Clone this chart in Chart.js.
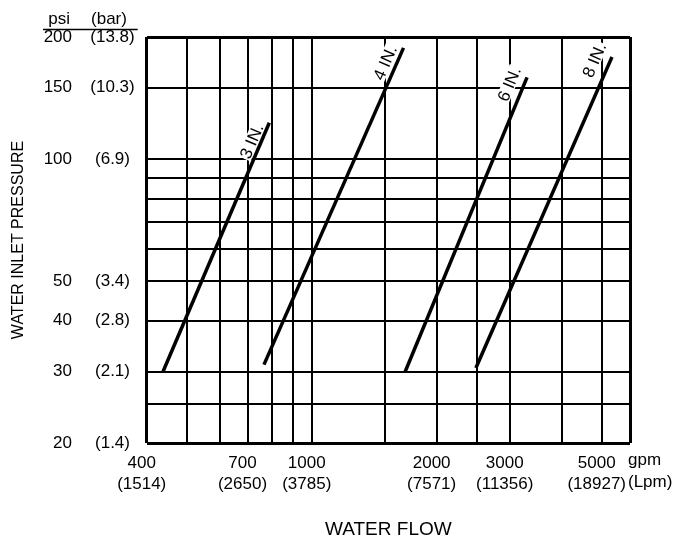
<!DOCTYPE html>
<html>
<head>
<meta charset="utf-8">
<script src="https://cdn.jsdelivr.net/npm/chart.js@4.4.0/dist/chart.umd.min.js"></script>
<style>
  html, body { margin: 0; padding: 0; background: #fff; }
  #chart { display: block; }
</style>
</head>
<body>
<canvas id="chart" width="675" height="540"></canvas>
<script>
// pipe sizes, each a straight line from (flowLow, pressLow) to (flowHigh, pressHigh) in gpm / psi
const pipeSizes = ['3 IN.', '4 IN.', '6 IN.', '8 IN.'];
const flowLow = [438, 767, 1680, 2487];
const flowHigh = [790, 1664, 3303, 5293];
const pressLow = [30, 31.2, 30, 30.6];
const pressHigh = [123, 188, 159, 178.6];

// x axis (gpm): grid lines, labelled ticks and their Lpm values
const flowGrid = [400, 500, 600, 700, 800, 900, 1000, 1500, 2000, 2500, 3000, 4000, 5000, 5850];
const flowTicks = [400, 700, 1000, 2000, 3000, 5000];
const lpmTicks = ['(1514)', '(2650)', '(3785)', '(7571)', '(11356)', '(18927)'];

// y axis (psi): grid lines, labelled ticks and their bar values
const pressGrid = [20, 25, 30, 40, 50, 60, 70, 80, 90, 100, 150, 200];
const psiTicks = [20, 30, 40, 50, 100, 150, 200];
const barTicks = ['(1.4)', '(2.1)', '(2.8)', '(3.4)', '(6.9)', '(10.3)', '(13.8)'];

const FONT = "'Liberation Sans', Arial, Helvetica, sans-serif";
Chart.defaults.font.family = FONT;
Chart.defaults.color = '#000';

// where each size label sits: px back from the top end, px off the line
const labelBack = [24, 21, 13, 10];
const labelSide = [9, 11, 14, 15];

const datasets = pipeSizes.map((s, i) => ({
  label: s,
  data: [{x: flowLow[i], y: pressLow[i]}, {x: flowHigh[i], y: pressHigh[i]}],
  borderColor: '#000',
  borderWidth: 3.5,
  pointRadius: 0,
  fill: false
}));

function setTicks(values) {
  return scale => { scale.ticks = values.map(v => ({value: v})); };
}
// frame lines a bit heavier than the inner grid
const edgeWidth = ctx => (ctx.index === 0 || ctx.index === ctx.scale.ticks.length - 1) ? 3 : 2;

const sizeLabels = {
  id: 'sizeLabels',
  beforeDatasetsDraw(chart) {
    const ctx = chart.ctx;
    chart.data.datasets.forEach((ds, i) => {
      const pts = chart.getDatasetMeta(i).data;
      const a = pts[0], b = pts[1];
      const len = Math.hypot(b.x - a.x, b.y - a.y);
      const ux = (b.x - a.x) / len, uy = (b.y - a.y) / len;
      const nx = uy, ny = -ux; // normal to the upper left
      const cx = b.x - ux * labelBack[i] + nx * labelSide[i];
      const cy = b.y - uy * labelBack[i] + ny * labelSide[i];
      ctx.save();
      ctx.font = '17px ' + FONT;
      ctx.textAlign = 'center';
      ctx.textBaseline = 'middle';
      ctx.translate(cx, cy);
      ctx.rotate(Math.atan2(uy, ux));
      const w = ctx.measureText(ds.label).width;
      ctx.fillStyle = '#fff';
      ctx.fillRect(-w / 2 - 1, -7, w + 2, 14);
      ctx.fillStyle = '#000';
      ctx.fillText(ds.label, 0, 1);
      ctx.restore();
    });
  }
};

const extraText = {
  id: 'extraText',
  afterDraw(chart) {
    const {ctx, chartArea, scales} = chart;
    ctx.save();
    ctx.fillStyle = '#000';
    ctx.font = '17px ' + FONT;
    ctx.textBaseline = 'middle';
    ctx.textAlign = 'right';
    ctx.fillText('psi', scales.y.right - 6, 19);
    ctx.textAlign = 'center';
    ctx.fillText('(bar)', scales.y2.left + 33, 19);
    ctx.strokeStyle = '#000';
    ctx.lineWidth = 1.5;
    ctx.beginPath();
    ctx.moveTo(43, 29.5);
    ctx.lineTo(chartArea.left - 9, 29.5);
    ctx.stroke();
    // units next to the last flow label
    ctx.textAlign = 'left';
    ctx.textBaseline = 'top';
    const y0 = scales.x.top + 9;
    ctx.fillText('gpm', chartArea.right - 2, y0);
    ctx.fillText('(Lpm)', chartArea.right - 2, y0 + 17 * 1.28);
    ctx.restore();
  }
};

new Chart(document.getElementById('chart'), {
  type: 'line',
  data: { datasets: datasets },
  plugins: [sizeLabels, extraText],
  options: {
    responsive: false,
    devicePixelRatio: 1,
    animation: false,
    layout: { padding: { left: 0, right: 45, top: 37, bottom: 0 } },
    plugins: { legend: { display: false }, tooltip: { enabled: false } },
    scales: {
      x: {
        type: 'logarithmic', min: 400, max: 5850,
        afterBuildTicks: setTicks(flowGrid),
        afterFit: s => { s.height = 97; },
        grid: { color: '#000', lineWidth: edgeWidth, drawTicks: false },
        border: { display: false },
        ticks: {
          autoSkip: false, maxRotation: 0, padding: 9, labelOffset: -5,
          font: { size: 17, lineHeight: 1.28 },
          callback: v => {
            const k = flowTicks.indexOf(v);
            return k < 0 ? '' : [String(v), lpmTicks[k]];
          }
        },
        title: { display: true, text: 'WATER FLOW', font: { size: 19, lineHeight: 1.1 }, padding: 0 }
      },
      y: {
        type: 'logarithmic', position: 'left', min: 20, max: 200, weight: 2,
        afterBuildTicks: setTicks(pressGrid),
        afterFit: s => { s.width = 76; },
        grid: { color: '#000', lineWidth: edgeWidth, drawTicks: false },
        border: { display: false },
        ticks: {
          autoSkip: false, padding: 4, font: { size: 17 },
          callback: v => psiTicks.includes(v) ? String(v) : ''
        },
        title: { display: true, text: 'WATER INLET PRESSURE', font: { size: 16, lineHeight: 1.25 }, padding: { top: 9, bottom: 0 } }
      },
      y2: {
        type: 'logarithmic', position: 'left', min: 20, max: 200, weight: 1,
        afterBuildTicks: setTicks(psiTicks),
        afterFit: s => { s.width = 70.7; },
        grid: { display: false, drawTicks: false },
        border: { display: false },
        ticks: {
          autoSkip: false, padding: 12, crossAlign: 'center', font: { size: 17 },
          callback: (v, i) => barTicks[i]
        }
      }
    }
  }
});
</script>
</body>
</html>
